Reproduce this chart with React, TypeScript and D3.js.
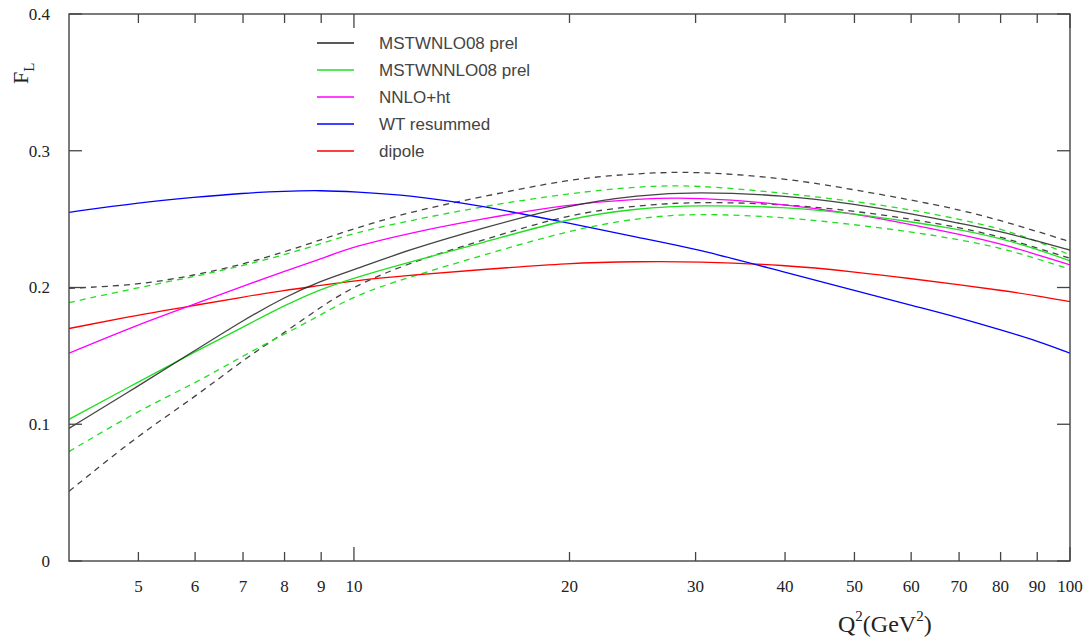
import React from "react";
import * as d3 from "d3";

const Q2 = [4, 5, 6, 7, 8, 9, 10, 12, 15, 20, 25, 30, 40, 50, 60, 70, 80, 90, 100];

const nloCentral = [0.097, 0.128, 0.154, 0.176, 0.193, 0.205, 0.213, 0.228, 0.243, 0.2605, 0.2675, 0.270, 0.2675, 0.261, 0.254, 0.247, 0.241, 0.234, 0.2274];
const nloLow = [0.051, 0.092, 0.120, 0.147, 0.167, 0.186, 0.201, 0.2185, 0.234, 0.254, 0.260, 0.2628, 0.261, 0.256, 0.250, 0.244, 0.237, 0.229, 0.2213];
const nloHigh = [0.1994, 0.2018, 0.209, 0.217, 0.226, 0.235, 0.243, 0.2555, 0.266, 0.2795, 0.2835, 0.285, 0.280, 0.2715, 0.264, 0.257, 0.249, 0.241, 0.2335];

const nnloCentral = [0.1036, 0.131, 0.153, 0.171, 0.187, 0.199, 0.207, 0.219, 0.232, 0.251, 0.258, 0.2603, 0.259, 0.254, 0.248, 0.2425, 0.236, 0.228, 0.2195];
const nnloLow = [0.080, 0.110, 0.130, 0.150, 0.166, 0.180, 0.194, 0.208, 0.223, 0.242, 0.251, 0.2543, 0.2515, 0.246, 0.2408, 0.235, 0.229, 0.221, 0.2135];
const nnloHigh = [0.189, 0.200, 0.208, 0.216, 0.224, 0.232, 0.240, 0.249, 0.259, 0.269, 0.274, 0.275, 0.269, 0.263, 0.257, 0.250, 0.243, 0.234, 0.2238];

const nnloHt = [0.152, 0.173, 0.188, 0.201, 0.212, 0.221, 0.230, 0.240, 0.250, 0.261, 0.265, 0.266, 0.261, 0.254, 0.246, 0.239, 0.232, 0.224, 0.2165];
const wtResummed = [0.255, 0.262, 0.266, 0.269, 0.2705, 0.271, 0.270, 0.2675, 0.260, 0.247, 0.2365, 0.2285, 0.211, 0.198, 0.187, 0.178, 0.169, 0.161, 0.152];
const dipole = [0.170, 0.180, 0.187, 0.193, 0.198, 0.2015, 0.205, 0.209, 0.213, 0.218, 0.219, 0.219, 0.2165, 0.2115, 0.2065, 0.202, 0.198, 0.194, 0.1896];

const xTicks = [5, 6, 7, 8, 9, 10, 20, 30, 40, 50, 60, 70, 80, 90, 100];
const xMajor = [10, 100];
const yTicks = [0, 0.1, 0.2, 0.3, 0.4];
const yTickLabels = ["0", "0.1", "0.2", "0.3", "0.4"];

const legendLabels = ["MSTWNLO08 prel", "MSTWNNLO08 prel", "NNLO+ht", "WT resummed", "dipole"];

const BLACK = "#222";
const GREEN = "#1fe01f";
const MAGENTA = "#ff00ff";
const BLUE = "#0000ff";
const RED = "#ff0000";

const legendColors = [BLACK, GREEN, MAGENTA, BLUE, RED];

const series = [
  { values: nloHigh, color: BLACK, dashed: true },
  { values: nloLow, color: BLACK, dashed: true },
  { values: nnloHigh, color: GREEN, dashed: true },
  { values: nnloLow, color: GREEN, dashed: true },
  { values: dipole, color: RED, dashed: false },
  { values: wtResummed, color: BLUE, dashed: false },
  { values: nnloHt, color: MAGENTA, dashed: false },
  { values: nnloCentral, color: GREEN, dashed: false },
  { values: nloCentral, color: BLACK, dashed: false },
];

export default function App() {
  const W = 1089;
  const H = 638;
  const left = 69, right = 1070, top = 14, bottom = 561;
  const x = d3.scaleLog().domain([4, 100]).range([left, right]);
  const y = d3.scaleLinear().domain([0, 0.4]).range([bottom, top]);
  const line = d3
    .line<[number, number]>()
    .x((d) => x(d[0]))
    .y((d) => y(d[1]))
    .curve(d3.curveBasis);

  const axisColor = "#444";
  const serif = "'Liberation Serif', 'Times New Roman', serif";
  const sans = "'Liberation Sans', Arial, sans-serif";

  return (
    <svg
      width={W}
      height={H}
      style={{ position: "absolute", left: 0, top: 0, background: "#fff" }}
    >
      <rect x={0} y={0} width={W} height={H} fill="#fff" />
      <defs>
        <clipPath id="plotclip">
          <rect x={left} y={top} width={right - left} height={bottom - top} />
        </clipPath>
      </defs>
      {/* curves */}
      <g clipPath="url(#plotclip)">
        {series.map((s, i) => (
          <path
            key={i}
            d={line(Q2.map((q, j) => [q, s.values[j]]) as [number, number][]) || ""}
            fill="none"
            stroke={s.color}
            strokeWidth={1.3}
            strokeDasharray={s.dashed ? "6,5" : undefined}
            opacity={s.color === BLACK ? 0.85 : 1}
          />
        ))}
      </g>

      {/* frame */}
      <rect
        x={left}
        y={top}
        width={right - left}
        height={bottom - top}
        fill="none"
        stroke={axisColor}
        strokeWidth={1.4}
      />

      {/* x ticks */}
      {xTicks.map((t) => {
        const len = xMajor.includes(t) ? 14 : 9;
        const xx = x(t);
        return (
          <g key={"xt" + t}>
            <line x1={xx} x2={xx} y1={bottom} y2={bottom - len} stroke={axisColor} strokeWidth={1.3} />
            <line x1={xx} x2={xx} y1={top} y2={top + len} stroke={axisColor} strokeWidth={1.3} />
            <text
              x={xx}
              y={592}
              textAnchor="middle"
              fontFamily={serif}
              fontSize={17}
              fill="#222"
            >
              {t}
            </text>
          </g>
        );
      })}

      {/* y ticks */}
      {yTicks.map((t, i) => {
        const yy = y(t);
        return (
          <g key={"yt" + t}>
            <line x1={left} x2={left + 13} y1={yy} y2={yy} stroke={axisColor} strokeWidth={1.3} />
            <line x1={right} x2={right - 13} y1={yy} y2={yy} stroke={axisColor} strokeWidth={1.3} />
            <text
              x={50}
              y={yy}
              dy="0.35em"
              textAnchor="end"
              fontFamily={serif}
              fontSize={17}
              fill="#222"
            >
              {yTickLabels[i]}
            </text>
          </g>
        );
      })}

      {/* y axis label F_L */}
      <text
        transform="translate(28,84) rotate(-90)"
        fontFamily={serif}
        fontSize={22}
        fill="#222"
      >
        F
        <tspan fontSize={15} dy={6}>
          L
        </tspan>
      </text>

      {/* x axis label */}
      <text x={838} y={632} fontFamily={serif} fontSize={24} fill="#222">
        Q
        <tspan fontSize={15} dy={-11}>
          2
        </tspan>
        <tspan dy={11}>(GeV</tspan>
        <tspan fontSize={15} dy={-11}>
          2
        </tspan>
        <tspan dy={11}>)</tspan>
      </text>

      {/* legend */}
      {legendLabels.map((lab, i) => {
        const ly = 43 + i * 27;
        return (
          <g key={"lg" + i}>
            <line x1={317} x2={354} y1={ly} y2={ly} stroke={legendColors[i]} strokeWidth={1.3} />
            <text
              x={379}
              y={ly}
              dy="0.35em"
              fontFamily={sans}
              fontSize={17}
              fill="#444"
            >
              {lab}
            </text>
          </g>
        );
      })}
    </svg>
  );
}
